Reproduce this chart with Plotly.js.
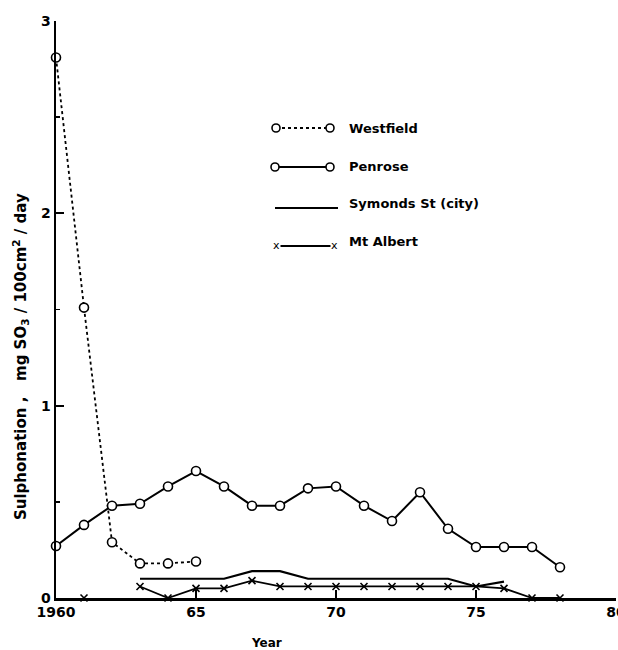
<!DOCTYPE html>
<html><head><meta charset="utf-8">
<script src="https://cdn.plot.ly/plotly-3.0.1.min.js"></script>
<style>html,body{margin:0;padding:0;background:#fff}</style>
</head><body><div id="chart" style="width:618px;height:650px"></div>
<script>
// ---- data ----
const seriesNames = ["Westfield", "Penrose", "Symonds St (city)", "Mt Albert"];
const westfieldYears = [1960, 1961, 1962, 1963, 1964, 1965];
const westfieldValues = [2.81, 1.51, 0.29, 0.18, 0.18, 0.19];
const penroseYears = [1960,1961,1962,1963,1964,1965,1966,1967,1968,1969,1970,1971,1972,1973,1974,1975,1976,1977,1978];
const penroseValues = [0.27,0.38,0.48,0.49,0.58,0.66,0.58,0.48,0.48,0.57,0.58,0.48,0.40,0.55,0.36,0.265,0.265,0.265,0.16];
const symondsYears = [1963,1964,1965,1966,1967,1968,1969,1970,1971,1972,1973,1974,1975,1976];
const symondsValues = [0.10,0.10,0.10,0.10,0.14,0.14,0.10,0.10,0.10,0.10,0.10,0.10,0.06,0.085];
const mtAlbertYears = [1961,1962,1963,1964,1965,1966,1967,1968,1969,1970,1971,1972,1973,1974,1975,1976,1977,1978];
const mtAlbertValues = [0,null,0.06,0,0.05,0.05,0.09,0.06,0.06,0.06,0.06,0.06,0.06,0.06,0.06,0.05,0,0];
const xTickVals = [1960, 1965, 1970, 1975, 1980];
const xTickText = ["1960", "65", "70", "75", "80"];
const yTickVals = [0, 1, 2, 3];
const yTickText = ["0", "1", "2", "3"];

// ---- layout geometry ----
const W = 618, H = 650;
const M = {l: 56, r: 2, t: 21, b: 52};
const FONT = "DejaVu Sans";
const px2x = px => (px - M.l) / (W - M.l - M.r);
const py2y = py => (H - M.b - py) / (H - M.t - M.b);

const circleMarker = {symbol: "circle", size: 9, color: "#fff", line: {color: "#000", width: 1.6}};

const traces = [
  {x: westfieldYears, y: westfieldValues, name: seriesNames[0], mode: "lines+markers",
   line: {color: "#000", width: 1.8, dash: "dot"}, marker: circleMarker, cliponaxis: false},
  {x: symondsYears, y: symondsValues, name: seriesNames[2], mode: "lines",
   line: {color: "#000", width: 2.2}, cliponaxis: false},
  {x: mtAlbertYears, y: mtAlbertValues, name: seriesNames[3], mode: "lines+markers",
   line: {color: "#000", width: 1.8}, connectgaps: false,
   marker: {symbol: "x-thin", size: 7, color: "#000", line: {color: "#000", width: 1.6}}, cliponaxis: false},
  {x: penroseYears, y: penroseValues, name: seriesNames[1], mode: "lines+markers",
   line: {color: "#000", width: 2}, marker: circleMarker, cliponaxis: false}
];

// custom legend (decoration)
const legendRows = [
  {name: seriesNames[0], py: 128, x0: 276, x1: 330, dash: "dot", w: 1.8, mark: "o"},
  {name: seriesNames[1], py: 167, x0: 275, x1: 330, dash: "solid", w: 2, mark: "o"},
  {name: seriesNames[2], py: 208, x0: 275, x1: 338, dash: "solid", w: 2.2, mark: "", ty: 203},
  {name: seriesNames[3], py: 246, x0: 276, x1: 334, dash: "solid", w: 1.8, mark: "x", ty: 241}
];
const shapes = [], annotations = [];
legendRows.forEach(r => {
  shapes.push({type: "line", xref: "paper", yref: "paper",
    x0: px2x(r.x0), x1: px2x(r.x1), y0: py2y(r.py), y1: py2y(r.py),
    line: {color: "#000", width: r.w, dash: r.dash}});
  if (r.mark === "o") {
    [r.x0, r.x1].forEach(px => shapes.push({type: "circle", xref: "paper", yref: "paper",
      xsizemode: "pixel", ysizemode: "pixel", xanchor: px2x(px), yanchor: py2y(r.py),
      x0: -4, x1: 4, y0: -4, y1: 4, fillcolor: "#fff", line: {color: "#000", width: 1.6}}));
  }
  if (r.mark === "x") {
    [r.x0, r.x1].forEach(px => annotations.push({xref: "paper", yref: "paper",
      x: px2x(px), y: py2y(r.py - 1), xanchor: "center", yanchor: "middle", text: "x", showarrow: false,
      font: {family: FONT, size: 11, color: "#000"}, bgcolor: "#fff", borderpad: 0}));
  }
  annotations.push({xref: "paper", yref: "paper", x: px2x(347), y: py2y(r.ty || r.py),
    xanchor: "left", yanchor: "middle", text: r.name, showarrow: false,
    font: {family: FONT, size: 13, color: "#000", weight: "bold"}});
});
annotations.push({xref: "paper", yref: "paper", x: px2x(266), y: py2y(643),
  xanchor: "center", yanchor: "middle",
  text: "Year", showarrow: false, font: {family: FONT, size: 12, color: "#000", weight: "bold"}});
annotations.push({xref: "paper", yref: "paper", x: px2x(20), y: py2y(357), textangle: -90,
  xanchor: "center", yanchor: "middle",
  text: "Sulphonation ,   mg SO<sub>3</sub> / 100cm<sup>2</sup> / day", showarrow: false,
  font: {family: FONT, size: 15, color: "#000", weight: "bold"}});

const layout = {
  width: W, height: H, margin: M, showlegend: false,
  paper_bgcolor: "#fff", plot_bgcolor: "#fff",
  font: {family: FONT, color: "#000"},
  xaxis: {range: [1960, 1980], tickvals: xTickVals, ticktext: xTickText,
    showgrid: false, zeroline: false, showline: true, linecolor: "#000", linewidth: 2.5,
    ticks: "inside", ticklen: 8, tickwidth: 2, tickcolor: "#000", ticklabeloverflow: "allow",
    tickfont: {family: FONT, size: 14, color: "#000", weight: "bold"}},
  yaxis: {range: [0, 3], tickvals: yTickVals, ticktext: yTickText,
    showgrid: false, zeroline: false, showline: true, linecolor: "#000", linewidth: 2.5,
    ticks: "inside", ticklen: 8, tickwidth: 2, tickcolor: "#000",
    minor: {dtick: 0.5, ticks: "inside", ticklen: 4, tickwidth: 1.5, tickcolor: "#000"},
    tickfont: {family: FONT, size: 14, color: "#000", weight: "bold"}},
  shapes: shapes, annotations: annotations
};
Plotly.newPlot("chart", traces, layout, {displayModeBar: false, staticPlot: true});
</script></body></html>
